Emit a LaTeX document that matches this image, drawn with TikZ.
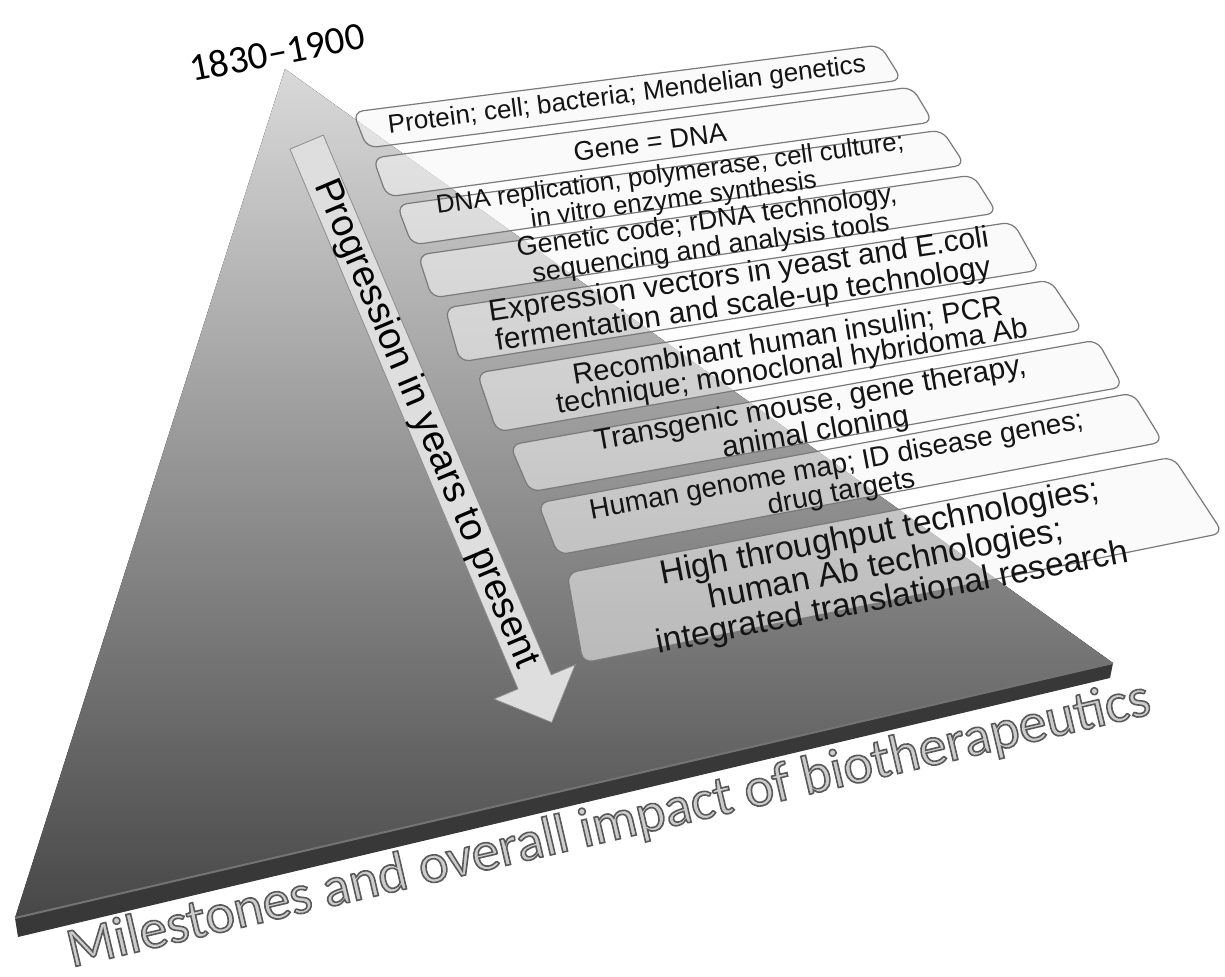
\documentclass[tikz,border=0pt]{standalone}
\usepackage{fontspec}
\setmainfont{Liberation Sans}
\newfontfamily\calibri{Carlito}
\usetikzlibrary{shapes.arrows}

\tikzset{
  caixa/.style={draw=black!52, line width=0.6pt, fill=black!4, fill opacity=0.55, rounded corners=5pt},
  rotulo/.style={align=center, inner sep=0pt, text=black!92},
}

\begin{document}
\begin{tikzpicture}[x=0.5pt, y=-0.5pt]
  \useasboundingbox (0,0) rectangle (1225,977);

  % Piramide
  \coordinate (topo) at (285,69);
  \coordinate (esq) at (15,918);
  \coordinate (dir) at (1113,663);
  \fill[top color=black!15, bottom color=black!72] (topo) -- (esq) -- (dir) -- cycle;
  \fill[black!78] (esq) -- (dir) -- (1110,678) -- (18,937) -- cycle;
  \draw[black!55, line width=1pt] (esq) -- (dir);

  % Data no topo
  \node[font=\calibri\fontsize{19.5}{20}\selectfont, rotate=11] (ano) at (277,52) {1830–1900};

  % Seta da progressao
  \node[single arrow, anchor=tip, rotate=-67.1, draw=black!45, line width=0.4pt,
        fill=black!13, single arrow head extend=13pt, single arrow tip angle=90,
        minimum height=315pt, inner xsep=4pt, inner ysep=0pt,
        font=\fontsize{19}{19}\selectfont] (seta) at (552,723) {Progression in years to present};

  % Caixas dos marcos
  \draw[caixa] (353,112) -- (880,45) -- (902,80) -- (367,148) -- cycle;
  \draw[caixa] (373,158) -- (912,87) -- (933,122) -- (387,197) -- cycle;
  \draw[caixa] (397,205) -- (942,130) -- (965,165) -- (412,245) -- cycle;
  \draw[caixa] (418,255) -- (973,175) -- (997,213) -- (432,298) -- cycle;
  \draw[caixa] (445,308) -- (1013,222) -- (1040,270) -- (460,362) -- cycle;
  \draw[caixa] (477,373) -- (1050,280) -- (1083,330) -- (497,432) -- cycle;
  \draw[caixa] (510,445) -- (1097,340) -- (1123,387) -- (530,492) -- cycle;
  \draw[caixa] (538,503) -- (1133,393) -- (1163,442) -- (558,555) -- cycle;
  \draw[caixa] (567,573) -- (1173,457) -- (1223,533) -- (583,663) -- cycle;

  % Textos dos marcos
  \node[rotulo, rotate=7.3, font=\fontsize{13}{12}\selectfont] (m1) at (627,96) {Protein; cell; bacteria; Mendelian genetics};
  \node[rotulo, rotate=7.5, font=\fontsize{13.5}{12}\selectfont] (m2) at (650,142) {Gene = DNA};
  \node[rotulo, rotate=7.8, font=\fontsize{12.9}{11}\selectfont] (m3) at (672,188) {DNA replication, polymerase, cell culture;\\in vitro enzyme synthesis};
  \node[rotulo, rotate=8.2, font=\fontsize{13.5}{11.5}\selectfont] (m4) at (709,236) {Genetic code; rDNA technology,\\sequencing and analysis tools};
  \node[rotulo, rotate=8.6, font=\fontsize{15}{13}\selectfont] (m5) at (741,291) {Expression vectors in yeast and E.coli\\fermentation and scale-up technology};
  \node[rotulo, rotate=9.2, font=\fontsize{14.5}{13}\selectfont] (m6) at (790,355) {Recombinant human insulin; PCR\\technique; monoclonal hybridoma Ab};
  \node[rotulo, rotate=10.1, font=\fontsize{14.8}{13}\selectfont] (m7) at (813,419) {Transgenic mouse, gene therapy,\\animal cloning};
  \node[rotulo, rotate=10.5, font=\fontsize{14}{13.5}\selectfont] (m8) at (839,480) {Human genome map; ID disease genes;\\drug targets};
  \node[rotulo, rotate=11, font=\fontsize{16.8}{15.2}\selectfont] (m9) at (886,566) {High throughput technologies;\\human Ab technologies;\\integrated translational research};

  % Titulo da base
  \node[rotate=13.2, text=black!20, font=\calibri\fontsize{28}{30}\selectfont] (base) at (609,826)
    {\special{pdf:code 2 Tr 0.8 w 0.35 G}Milestones and overall impact of biotherapeutics\special{pdf:code 0 Tr 0 G}};
\end{tikzpicture}
\end{document}
